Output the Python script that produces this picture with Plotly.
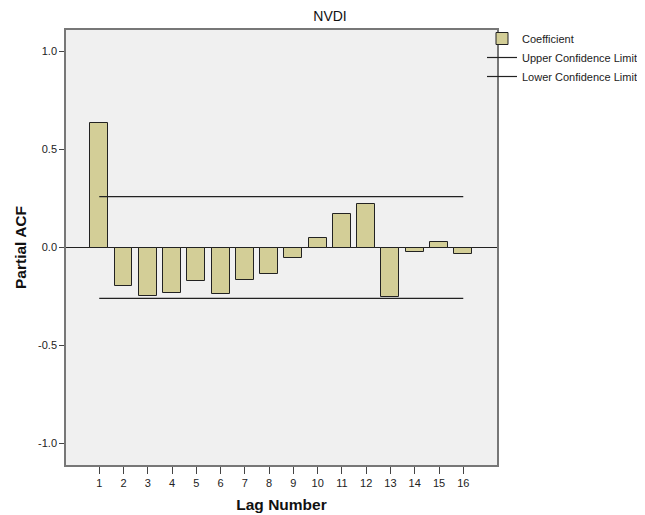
import plotly.graph_objects as go

lags = list(range(1, 17))
pacf = [0.636, -0.196, -0.248, -0.231, -0.172, -0.238, -0.167, -0.136,
        -0.053, 0.048, 0.170, 0.223, -0.255, -0.022, 0.028, -0.032]
upper_limit = 0.26
lower_limit = -0.26
y_ticks = [-1.0, -0.5, 0.0, 0.5, 1.0]
y_tick_labels = ["-1.0", "-0.5", "0.0", "0.5", "1.0"]

# page has an 8px body margin; figure is sized to fit the 645x515 window
W, H = 637, 507

fig = go.Figure()
fig.add_trace(go.Bar(
    x=lags, y=pacf, name="Coefficient", width=0.74,
    marker=dict(color="#D3CE97", line=dict(color="#222222", width=1)),
))
fig.add_trace(go.Scatter(
    x=[lags[0], lags[-1]], y=[upper_limit, upper_limit], mode="lines",
    name="Upper Confidence Limit", line=dict(color="#222222", width=1.2),
))
fig.add_trace(go.Scatter(
    x=[lags[0], lags[-1]], y=[lower_limit, lower_limit], mode="lines",
    name="Lower Confidence Limit", line=dict(color="#222222", width=1.2),
))

fig.update_layout(
    width=W, height=H,
    margin=dict(l=58, r=148, t=22, b=50, autoexpand=False),
    paper_bgcolor="white", plot_bgcolor="#F0F0F0",
    font=dict(family="Liberation Sans, Arial, sans-serif", size=11, color="#222222"),
    title=dict(text="NVDI", x=322 / W, xanchor="center",
               yref="container", y=1 - 8 / H, yanchor="middle",
               font=dict(size=14, color="#111111")),
    showlegend=True,
    legend=dict(xref="container", yref="container", x=474 / W, y=1 - 16 / H,
                xanchor="left", yanchor="top", bgcolor="rgba(0,0,0,0)",
                font=dict(size=11), tracegroupgap=0, itemwidth=30),
    bargap=0,
)
fig.update_xaxes(
    range=[-0.37, 17.39], tickmode="array", tickvals=lags, ticktext=[str(v) for v in lags],
    ticks="outside", ticklen=7, tickcolor="#444444", showgrid=False, zeroline=False,
    showline=True, linecolor="#777777", linewidth=1.5, mirror=True, automargin=False,
    title=dict(text="<b>Lag Number</b>", font=dict(size=15.5, color="#111111"), standoff=11),
)
fig.update_yaxes(
    range=[-1.11, 1.11], tickmode="array", tickvals=y_ticks, ticktext=y_tick_labels,
    ticks="outside", ticklen=5, tickcolor="#444444", showgrid=False,
    zeroline=True, zerolinecolor="#222222", zerolinewidth=1.2, automargin=False,
    showline=True, linecolor="#777777", linewidth=1.5, mirror=True,
    title=dict(text="<b>Partial ACF</b>", font=dict(size=15.5, color="#111111"), standoff=8),
)

fig.write_html("out.html")
